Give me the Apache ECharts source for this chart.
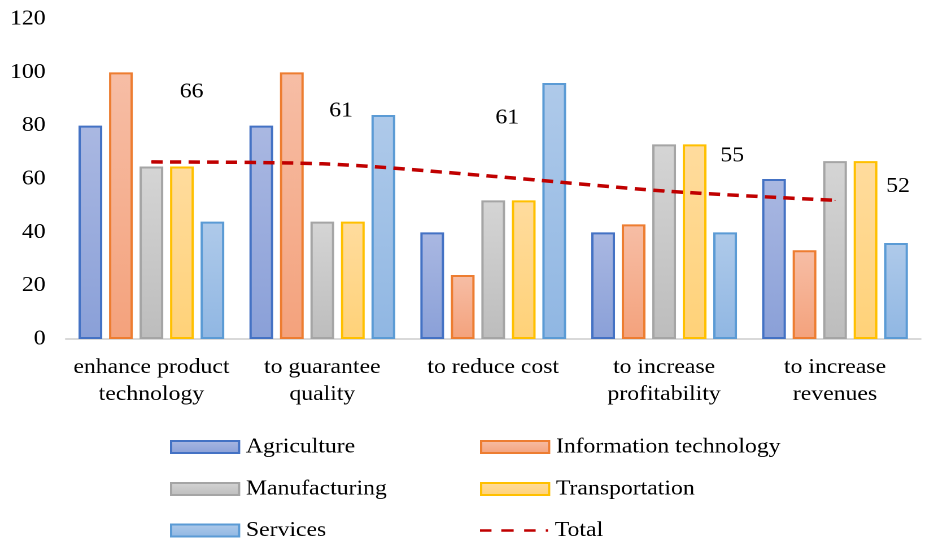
<!DOCTYPE html>
<html><head><meta charset="utf-8">
<script src="https://cdn.jsdelivr.net/npm/echarts@6/dist/echarts.min.js"></script>
<style>
html,body{margin:0;padding:0;background:#fff;overflow:hidden;width:925px;height:543px}
#c{width:819px;height:543px;transform:scaleX(1.1294);transform-origin:0 0}
</style>
</head><body><div id="c"></div>
<script>
const categories = ['enhance product\ntechnology', 'to guarantee\nquality', 'to reduce cost', 'to increase\nprofitability', 'to increase\nrevenues'];
const agriculture = [80, 80, 40, 40, 60];
const infoTech = [100, 100, 24, 43, 33.3];
const manufacturing = [64.7, 44, 52, 73, 66.7];
const transportation = [64.7, 44, 52, 73, 66.7];
const services = [44, 84, 96, 40, 36];
const total = [66.4, 65.7, 61, 55.5, 52];
const totalLabels = ['66', '61', '61', '55', '52'];
const yTicks = [0, 20, 40, 60, 80, 100, 120];

// label placement (chart px) relative to line point
const labelOffsets = [[35.6, -69.7], [16.6, -52.6], [12.4, -58.1], [60.4, -34.8], [55.8, -13.7]];
const FONT = '"Liberation Serif", "Times New Roman", serif';
const FS = 21;

function grad(top, bottom) {
  return new echarts.graphic.LinearGradient(0, 0, 0, 1, [{offset: 0, color: top}, {offset: 1, color: bottom}]);
}
function barSeries(name, data, top, bottom, border) {
  return {
    name, type: 'bar', data, barWidth: 21, barGap: '28.6%',
    itemStyle: {color: grad(top, bottom), borderColor: border, borderWidth: 2}
  };
}
const dashIcon = 'path://M0,0h11.7v3h-11.7z M21.7,0h12.6v3h-12.6z M45,0h11.7v3h-11.7z M67,0h2.3v3h-2.3z';

function legendItem(name, left, centerY, isLine) {
  return {
    data: [isLine ? {name, icon: dashIcon} : {name, icon: 'rect'}],
    left, top: centerY - 12, padding: 0,
    itemWidth: 60.2, itemHeight: isLine ? 3 : 12, itemGap: 0,
    textStyle: {fontFamily: FONT, fontSize: FS, color: '#000', lineHeight: 24, padding: [0, 0, 0, 1]}
  };
}

const chart = echarts.init(document.getElementById('c'), null, {renderer: 'canvas', devicePixelRatio: 2});
chart.setOption({
  animation: false,
  backgroundColor: '#fff',
  textStyle: {fontFamily: FONT},
  grid: {left: 58.4, right: 4, top: 19, bottom: 204, containLabel: false},
  xAxis: {
    type: 'category', data: categories,
    axisLine: {show: true, lineStyle: {color: '#d9d9d9', width: 2}},
    axisTick: {show: false},
    axisLabel: {fontFamily: FONT, fontSize: FS, color: '#000', margin: 15, lineHeight: 27, interval: 0}
  },
  yAxis: {
    type: 'value', min: yTicks[0], max: yTicks[yTicks.length - 1], interval: 20,
    axisLine: {show: false}, axisTick: {show: false}, splitLine: {show: false},
    axisLabel: {fontFamily: FONT, fontSize: FS, color: '#000', margin: 18}
  },
  legend: [
    legendItem('Agriculture', 150.5, 447),
    legendItem('Manufacturing', 150.5, 489),
    legendItem('Services', 150.5, 530.5),
    legendItem('Information technology', 425, 447),
    legendItem('Transportation', 425, 489),
    legendItem('Total', 425, 530.5, true)
  ],
  series: [
    barSeries('Agriculture', agriculture, '#aab8e2', '#8aa0d8', '#4472c4'),
    barSeries('Information technology', infoTech, '#f7bea6', '#f4a27c', '#ed7d31'),
    barSeries('Manufacturing', manufacturing, '#d5d5d5', '#bdbdbd', '#a5a5a5'),
    barSeries('Transportation', transportation, '#ffdc9e', '#ffd278', '#ffc000'),
    barSeries('Services', services, '#afcaea', '#90b7e3', '#5b9bd5'),
    {
      name: 'Total', type: 'line', smooth: 0.3, symbol: 'circle', symbolSize: 1, showSymbol: true, z: 5,
      data: total.map((v, i) => ({value: v, label: {offset: labelOffsets[i]}})),
      itemStyle: {color: '#c00000'},
      lineStyle: {color: '#c00000', width: 3.5, type: [10, 6.5]},
      label: {
        show: true, position: 'inside', fontFamily: FONT, fontSize: FS, color: '#000',
        formatter: p => totalLabels[p.dataIndex]
      }
    }
  ]
});
</script></body></html>
